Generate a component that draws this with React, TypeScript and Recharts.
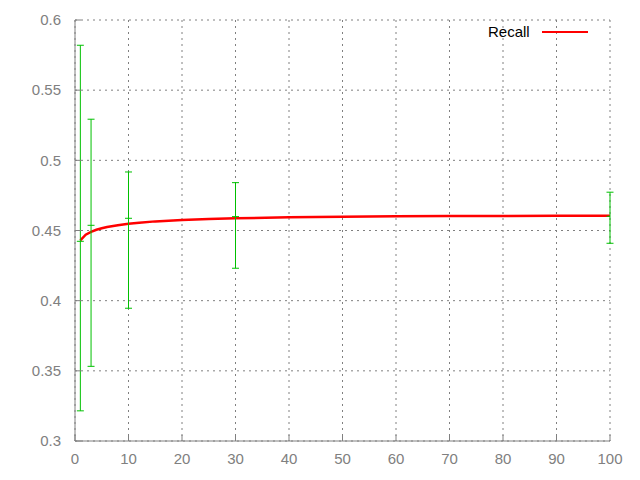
import React from "react";
import { ComposedChart, Line, Scatter, ErrorBar, XAxis, YAxis, CartesianGrid } from "recharts";

const recallX = [1, 2, 3, 4, 5, 6, 8, 10, 12, 15, 20, 25, 30, 40, 50, 60, 70, 80, 90, 100];
const recallY = [0.443, 0.447, 0.449, 0.4505, 0.4516, 0.4525, 0.4538, 0.4548, 0.4556, 0.4565, 0.4575, 0.4582, 0.4587, 0.4594, 0.4598, 0.4601, 0.4603, 0.4604, 0.4605, 0.4606];

const errX = [1, 3, 10, 30, 100];
const errMid = [0.4423, 0.4537, 0.4587, 0.4599, 0.4601];
const errLow = [0.3215, 0.3532, 0.3946, 0.4231, 0.4409];
const errHigh = [0.582, 0.5293, 0.4917, 0.4841, 0.4773];

const xTicks = [0, 10, 20, 30, 40, 50, 60, 70, 80, 90, 100];
const yTicks = [0.3, 0.35, 0.4, 0.45, 0.5, 0.55, 0.6];

const lineData = recallX.map((x, i) => ({ x, y: recallY[i] }));
const errData = errX.map((x, i) => ({
  x,
  y: errMid[i],
  err: [errMid[i] - errLow[i], errHigh[i] - errMid[i]],
}));

const GREEN = "#00c000";
const GRAY = "#808080";
const FONT = "'Liberation Sans', Arial, sans-serif";
const X_MARGIN = 12;
const Y_MARGIN = 14;

const MidTick = (props: any) => {
  const { cx, cy } = props;
  if (cx == null || cy == null) return null;
  return <line x1={cx - 3.5} x2={cx + 3.5} y1={cy} y2={cy} stroke={GREEN} strokeWidth={1} />;
};

const XTick = (props: any) => {
  const { x, y, payload } = props;
  const ay = y - X_MARGIN;
  return (
    <g>
      <line x1={x} x2={x} y1={ay} y2={ay - 6} stroke={GRAY} strokeWidth={1} />
      <text x={x} y={y} dy="0.71em" textAnchor="middle" fill={GRAY} fontSize={15} fontFamily={FONT}>
        {payload.value}
      </text>
    </g>
  );
};

const YTick = (props: any) => {
  const { x, y, payload } = props;
  const ax = x + Y_MARGIN;
  return (
    <g>
      <line x1={ax} x2={ax + 6} y1={y} y2={y} stroke={GRAY} strokeWidth={1} />
      <text x={x} y={y} dy="0.355em" textAnchor="end" fill={GRAY} fontSize={15} fontFamily={FONT}>
        {payload.value}
      </text>
    </g>
  );
};

export default function App() {
  return (
    <div style={{ position: "absolute", left: 0, top: 0, width: 640, height: 480, background: "#fff" }}>
      <ComposedChart width={640} height={480} margin={{ top: 20, right: 30, bottom: 0, left: 0 }}>
        <CartesianGrid stroke={GRAY} strokeDasharray="2 4" horizontal vertical />
        <XAxis
          type="number"
          dataKey="x"
          domain={[0, 100]}
          ticks={xTicks}
          height={39}
          tickSize={0}
          tickMargin={X_MARGIN}
          axisLine={{ stroke: GRAY, strokeWidth: 1 }}
          tick={<XTick />}
          allowDataOverflow
        />
        <YAxis
          type="number"
          domain={[0.3, 0.6]}
          ticks={yTicks}
          width={75}
          tickSize={0}
          tickMargin={Y_MARGIN}
          axisLine={{ stroke: GRAY, strokeWidth: 1 }}
          tick={<YTick />}
          allowDataOverflow
        />
        <Line
          data={lineData}
          dataKey="y"
          type="linear"
          stroke="#ff0000"
          strokeWidth={2.5}
          dot={false}
          isAnimationActive={false}
          name="Recall"
        />
        <Scatter data={errData} dataKey="y" shape={<MidTick />} isAnimationActive={false}>
          <ErrorBar dataKey="err" direction="y" width={3.5} stroke={GREEN} strokeWidth={1} isAnimationActive={false} />
        </Scatter>
      </ComposedChart>
      <div
        style={{
          position: "absolute",
          top: 22,
          left: 488,
          display: "flex",
          alignItems: "center",
          fontFamily: FONT,
          fontSize: 15,
          color: "#000",
          lineHeight: "20px",
        }}
      >
        <span>Recall</span>
        <span style={{ display: "inline-block", width: 46, height: 2, background: "#ff0000", marginLeft: 12 }} />
      </div>
    </div>
  );
}
